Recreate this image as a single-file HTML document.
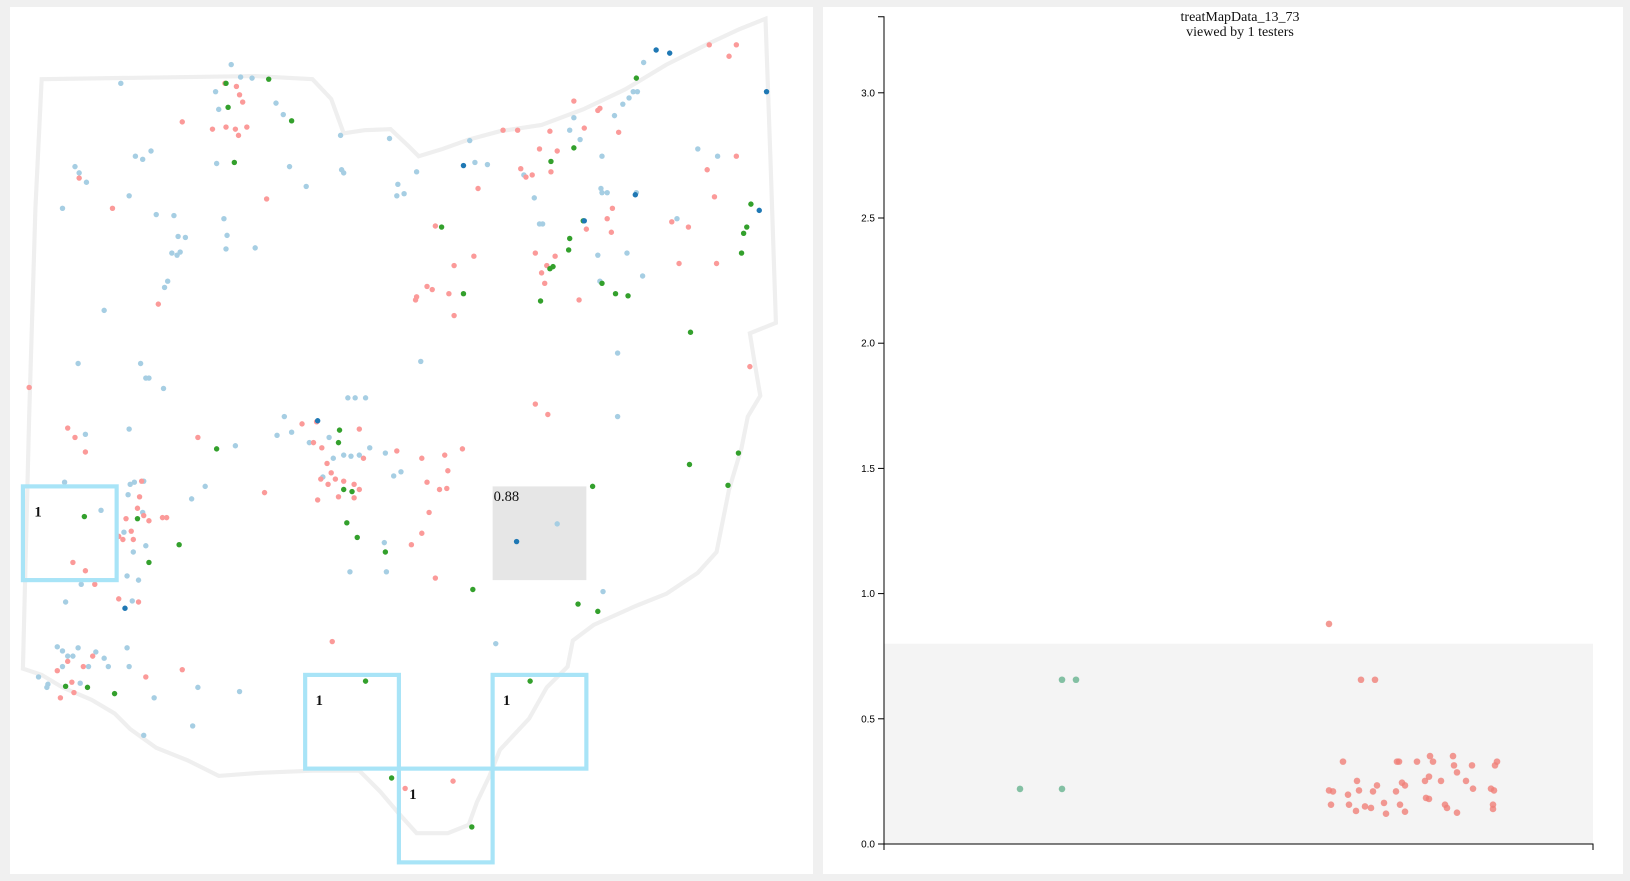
<!DOCTYPE html>
<html><head><meta charset="utf-8"><style>
html,body{margin:0;padding:0;background:#f0f0f0;width:1630px;height:881px;overflow:hidden}
svg{display:block}
</style></head><body>
<svg id="root" width="1630" height="881" xmlns="http://www.w3.org/2000/svg">
<rect x="0" y="0" width="1630" height="881" fill="#f0f0f0"/>
<rect x="10" y="7" width="803" height="867" fill="#fff"/>
<rect x="823" y="7" width="800" height="867" fill="#fff"/>
<g id="map" transform="scale(1.0415)">
<path fill="none" stroke="#efefef" stroke-width="4" d="M40,76 L245,73 L300,76 L318,95 L330,128 L350,125 L375,124 L392,140 L402,150 L425,143 L450,134 L480,126 L520,120 L560,105 L600,86 L640,62 L680,42 L710,28 L735,18 L740,160 L745,310 L720,320 L724,345 L730,380 L718,400 L712,430 L700,470 L694,500 L688,530 L670,550 L640,570 L610,582 L570,600 L550,615 L545,640 L525,660 L508,690 L480,720 L470,745 L458,770 L450,792 L430,800 L400,800 L382,780 L365,760 L345,740 L300,740 L250,742 L210,745 L180,730 L150,718 L125,700 L110,685 L88,672 L60,660 L40,648 L22,642 L28,400 L34,200 Z"/>
<rect x="473" y="467" width="90" height="90" fill="#e6e6e6"/>
<text x="474" y="481" font-family="Liberation Serif, serif" font-size="14" fill="#111">0.88</text>
<g id="mapdots"></g>
<g fill="none" stroke="#a8e4f7" stroke-width="4">
<rect x="22" y="467" width="90" height="90"/>
<rect x="293" y="648" width="90" height="90"/>
<rect x="473" y="648" width="90" height="90"/>
<rect x="383" y="738" width="90" height="90"/>
</g>
<g font-family="Liberation Serif, serif" font-size="14" font-weight="bold" fill="#111">
<text x="33" y="496">1</text>
<text x="303" y="677">1</text>
<text x="483" y="677">1</text>
<text x="393" y="767">1</text>
</g>
</g>
<g id="chart">
<rect id="band" fill="#f4f4f4"/>
<g id="yaxis"></g>
<g id="xaxis"></g>
<g id="pts"></g>
<text x="1240" y="21" text-anchor="middle" font-family="Liberation Serif, serif" font-size="14" fill="#111">treatMapData_13_73</text>
<text x="1240" y="36" text-anchor="middle" font-family="Liberation Serif, serif" font-size="14" fill="#111">viewed by 1 testers</text>
</g>
</svg>
<script>
// map point locations (map units)
const lightBlueSites=[[116,80],[222,62],[231,74],[242,75],[207,88],[210,105],[265,99],[272,110],[327,130],[374,133],[451,135],[208,157],[278,160],[130,150],[137,153],[145,145],[72,160],[76,166],[83,175],[60,200],[124,188],[150,206],[167,207],[171,227],[178,228],[165,243],[170,245],[173,242],[215,210],[218,226],[217,239],[245,238],[161,270],[158,276],[100,298],[75,349],[135,349],[140,363],[143,363],[157,373],[124,412],[82,417],[62,463],[97,490],[125,465],[129,463],[138,462],[123,475],[137,492],[119,511],[128,530],[140,524],[133,557],[122,553],[78,561],[63,578],[127,577],[197,467],[184,479],[226,428],[273,400],[280,415],[266,418],[297,425],[316,420],[320,440],[330,437],[337,438],[345,437],[310,458],[334,382],[341,382],[351,382],[355,430],[370,435],[378,457],[385,453],[404,347],[294,179],[328,163],[330,166],[382,177],[381,188],[388,186],[400,165],[456,156],[468,158],[503,168],[513,190],[518,215],[521,215],[551,113],[547,125],[557,134],[578,150],[583,185],[577,181],[578,185],[604,94],[608,88],[612,88],[598,100],[590,111],[618,60],[611,185],[574,245],[576,270],[602,243],[617,265],[593,339],[593,400],[650,210],[670,143],[689,150],[535,503],[579,568],[476,618],[336,549],[369,521],[371,549],[230,664],[185,697],[138,706],[148,670],[124,640],[122,622],[55,621],[60,625],[65,630],[70,630],[75,622],[60,640],[37,650],[45,660],[85,640],[100,632],[104,640],[46,657],[190,660],[77,656],[92,626]];
const salmonSites=[[216,80],[227,83],[230,91],[233,98],[237,122],[226,124],[229,130],[204,124],[217,122],[175,117],[256,191],[108,200],[76,171],[152,292],[28,372],[65,411],[72,420],[82,434],[136,462],[134,477],[132,488],[138,495],[143,500],[121,498],[126,510],[128,518],[114,515],[118,518],[156,497],[160,497],[70,540],[82,548],[91,561],[114,575],[133,578],[89,630],[65,635],[80,640],[71,665],[58,670],[69,655],[55,644],[175,643],[140,650],[190,420],[254,473],[290,407],[304,405],[301,425],[309,430],[314,445],[318,454],[322,460],[308,460],[315,465],[330,462],[340,465],[345,470],[340,478],[345,412],[305,480],[325,477],[349,440],[381,433],[405,440],[410,463],[412,492],[405,512],[395,523],[418,555],[427,437],[429,469],[430,452],[422,470],[444,431],[319,616],[389,757],[435,750],[514,388],[526,398],[418,217],[455,246],[436,255],[431,282],[436,303],[410,275],[415,278],[400,285],[399,288],[459,181],[483,125],[497,125],[500,162],[505,170],[511,168],[514,243],[520,262],[523,272],[529,165],[535,145],[528,126],[518,143],[525,255],[533,246],[556,288],[574,106],[576,104],[561,123],[594,127],[563,220],[587,223],[583,210],[588,200],[645,213],[661,218],[679,163],[686,189],[688,253],[652,253],[707,150],[700,54],[707,43],[681,43],[720,352],[551,97]];
const greenSites=[[217,80],[258,76],[280,116],[219,103],[225,156],[424,218],[445,282],[529,155],[551,142],[547,229],[546,240],[528,258],[531,256],[519,289],[560,212],[578,272],[591,282],[603,284],[611,75],[663,319],[721,196],[717,218],[714,224],[712,243],[662,446],[709,435],[699,466],[569,467],[454,566],[555,580],[574,587],[351,654],[509,654],[376,747],[453,794],[333,502],[343,516],[370,530],[326,413],[325,425],[338,472],[330,470],[208,431],[172,523],[143,540],[132,498],[81,496],[63,659],[84,660],[110,666]];
const darkBlueSites=[[630,48],[643,51],[736,88],[445,159],[610,187],[561,212],[729,202],[305,404],[120,584],[496,520]];

// scatter chart data
const yTicks=[0,0.5,1.0,1.5,2.0,2.5,3.0];
const yTickLabels=["0.0","0.5","1.0","1.5","2.0","2.5","3.0"];
const bandValue=0.8;
const greenJitter=[136,178,178,192];
const greenValues=[0.22,0.22,0.656,0.656];
const redJitter=[445,477,491,459,513,515,533,546,549,569,570,588,573,611,613,473,493,518,521,541,545,557,582,589,607,610,445,449,464,475,489,512,542,545,447,465,472,481,487,500,502,516,521,561,563,573,609,609];
const redValues=[.879,.656,.656,.329,.329,.329,.329,.351,.329,.351,.314,.314,.286,.314,.329,.252,.234,.245,.234,.252,.269,.252,.252,.221,.221,.214,.214,.21,.197,.214,.21,.21,.184,.18,.157,.157,.132,.15,.144,.164,.121,.157,.129,.157,.144,.125,.157,.14];

const NS="http://www.w3.org/2000/svg";
function mk(tag,parent){const e=document.createElementNS(NS,tag);parent.appendChild(e);return e;}
const mapdots=document.getElementById('mapdots');
function drawSites(arr,color,name){
  arr.forEach(p=>{const c=mk('circle',mapdots);
    c.setAttribute('cx',p[0]);c.setAttribute('cy',p[1]);c.setAttribute('r',2.6);c.setAttribute('fill',color);
    
    });
}
drawSites(lightBlueSites,'#a6cee3','site-light-blue');
drawSites(salmonSites,'#fb9a99','site-salmon');
drawSites(greenSites,'#33a02c','site-green');
drawSites(darkBlueSites,'#1f78b4','site-dark-blue');

const X0=884,X1=1593,Y0=844,PX=250.4;
const xS=v=>X0+v;
const yS=v=>Y0-v*PX;
const band=document.getElementById('band');
band.setAttribute('x',X0);band.setAttribute('y',yS(bandValue));band.setAttribute('width',X1-X0);band.setAttribute('height',Y0-yS(bandValue));
const ya=document.getElementById('yaxis');
let ap=mk('path',ya);ap.setAttribute('d',`M${X0-6},16.7H${X0}V${Y0}H${X0-6}`);ap.setAttribute('fill','none');ap.setAttribute('stroke','#000');


yTicks.forEach((t,i)=>{const l=mk('line',ya);l.setAttribute('x1',X0-6);l.setAttribute('x2',X0);l.setAttribute('y1',yS(t));l.setAttribute('y2',yS(t));l.setAttribute('stroke','#000');
  
  
  const tx=mk('text',ya);tx.setAttribute('x',X0-9);tx.setAttribute('y',yS(t)+3.5);tx.setAttribute('text-anchor','end');tx.setAttribute('font-family','Liberation Sans, sans-serif');tx.setAttribute('font-size','10');tx.textContent=yTickLabels[i];
  
  });
const xa=document.getElementById('xaxis');
let xp=mk('path',xa);xp.setAttribute('d',`M${X0},${Y0+6}V${Y0}H${X1}V${Y0+6}`);xp.setAttribute('fill','none');xp.setAttribute('stroke','#000');


const pts=document.getElementById('pts');
greenJitter.forEach((j,i)=>{const c=mk('circle',pts);c.setAttribute('cx',xS(j));c.setAttribute('cy',yS(greenValues[i]));c.setAttribute('r',3.3);c.setAttribute('fill','#66b38f');c.setAttribute('opacity','0.8');
  
  });
redJitter.forEach((j,i)=>{const c=mk('circle',pts);c.setAttribute('cx',xS(j));c.setAttribute('cy',yS(redValues[i]));c.setAttribute('r',3.3);c.setAttribute('fill','#f08078');c.setAttribute('opacity','0.8');
  
  });
</script>
</body></html>
